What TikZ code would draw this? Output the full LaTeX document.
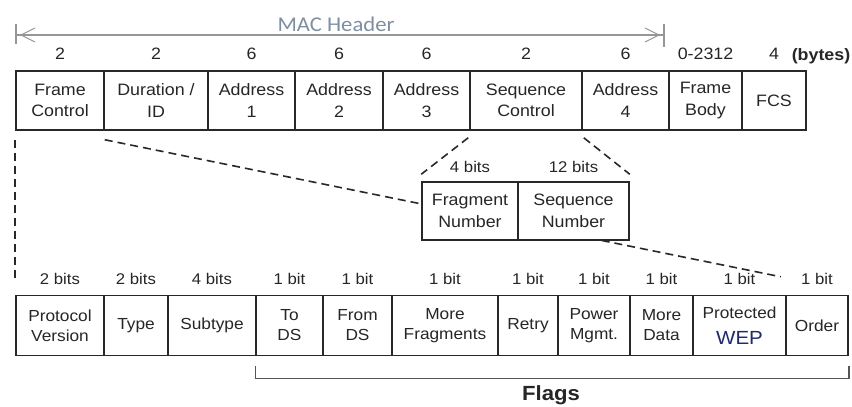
\documentclass[tikz,border=0pt]{standalone}
\usepackage{fontspec}
\setmainfont{Liberation Sans}[FakeStretch=1.08]
\newfontfamily\macfont{Carlito}[FakeStretch=1.08]
\usetikzlibrary{calc}
\definecolor{boxline}{RGB}{40,40,40}
\definecolor{macgray}{RGB}{128,142,162}
\definecolor{macline}{RGB}{150,150,150}
\definecolor{wepblue}{RGB}{30,42,110}
\definecolor{bracketgray}{RGB}{85,85,85}
\begin{document}
\begin{tikzpicture}[x=1pt,y=-1pt,
  cell/.style={draw=boxline,line width=1.5pt,fill=white,inner sep=0pt,align=center,
    font=\fontsize{16.5}{21.5}\selectfont,text=black!85},
  toprow/.style={cell,minimum height=59pt},
  midrow/.style={cell,minimum height=58pt},
  botrow/.style={cell,minimum height=60pt,font=\fontsize{16}{20}\selectfont},
  sizelbl/.style={anchor=base,inner sep=0pt,font=\fontsize{16.5}{18}\selectfont,text=black!85},
  bitlbl/.style={sizelbl,font=\fontsize{15.5}{18}\selectfont},
  dashlink/.style={draw=boxline,line width=1.6pt,dash pattern=on 8pt off 5pt},
  macrule/.style={draw=macline,line width=1.1pt,line join=miter},
  bracketline/.style={draw=bracketgray,line width=1.5pt}]
\useasboundingbox (0,0) rectangle (852,407);

% MAC header span: end bars, rule and open chevron heads
\coordinate (macL) at (16,35);
\coordinate (macR) at (664,35);
\draw[macrule] ($(macL)+(0,-11)$) -- ($(macL)+(0,9)$);
\draw[macrule] ($(macR)+(0,-11)$) -- ($(macR)+(0,12)$);
\draw[macrule] (macL) -- (macR);
\draw[macrule] ($(macL)+(19,-7)$) -- ($(macL)+(5,0)$) -- ($(macL)+(19,7)$);
\draw[macrule] ($(macR)+(-19,-7)$) -- ($(macR)+(-5,0)$) -- ($(macR)+(-19,7)$);
\node[anchor=base,inner sep=0pt,text=macgray,font=\macfont\fontsize{21}{23}\selectfont]
  (machdr) at (336,31) {MAC Header};

% Frame Control expansion (drawn first, the sub-field box covers it)
\node[botrow,minimum width=62pt] (ord) at (817,325.5) {Order};
\node[toprow,minimum width=88pt] (fc) at (60,100.5) {Frame\\Control};
\node[botrow,minimum width=88pt] (pv) at (60,325.5) {Protocol\\Version};
\coordinate (fcEnd) at ($(ord.north east)+(-68,-18)$);
\draw[dashlink] ($(fc.south east)+(0,9)$) -- (fcEnd);
\draw[dashlink] ($(fc.south west)+(0,9)$) -- ($(pv.north west)+(0,-14)$);

% MAC frame fields
\node[toprow,minimum width=104pt] (dur) at (156,100.5) {Duration /\\ID};
\node[toprow,minimum width=87pt] (a1) at (251.5,100.5) {Address\\1};
\node[toprow,minimum width=88pt] (a2) at (339,100.5) {Address\\2};
\node[toprow,minimum width=87pt] (a3) at (426.5,100.5) {Address\\3};
\node[toprow,minimum width=112pt] (sc) at (526,100.5) {Sequence\\Control};
\node[toprow,minimum width=87pt] (a4) at (625.5,100.5) {Address\\4};
\node[toprow,minimum width=73pt] (fb) at (705.5,100.5) {Frame\\Body};
\node[toprow,minimum width=64pt] (fcs) at (774,100.5) {FCS};

\foreach \n/\t in {fc/2,dur/2,a1/6,a2/6,a3/6,sc/2,a4/6,fb/0-2312,fcs/4}
  \node[sizelbl] at ($(\n.north)+(0,-11)$) {\t};
\node[sizelbl,font=\bfseries\fontsize{16.5}{18}\selectfont] (bytes) at (821,60) {(bytes)};

% Sequence Control sub-fields
\node[midrow,minimum width=96pt] (fn) at (470,211) {Fragment\\Number};
\node[midrow,minimum width=111pt] (sn) at (573.5,211) {Sequence\\Number};
\node[bitlbl] at ($(fn.north)+(0,-9)$) {4 bits};
\node[bitlbl] at ($(sn.north)+(0,-9)$) {12 bits};
\draw[dashlink] ($(sc.south west)+(-1,7)$) -- ($(fn.north west)+(0,-7)$);
\draw[dashlink] ($(sc.south east)+(1,7)$) -- ($(sn.north east)+(0,-7)$);

% Frame Control sub-fields
\node[botrow,minimum width=64pt] (ty) at (136,325.5) {Type};
\node[botrow,minimum width=88pt] (st) at (212,325.5) {Subtype};
\node[botrow,minimum width=67pt] (tods) at (289.5,325.5) {To\\DS};
\node[botrow,minimum width=69pt] (fromds) at (357.5,325.5) {From\\DS};
\node[botrow,minimum width=106pt] (mf) at (445,325.5) {More\\Fragments};
\node[botrow,minimum width=60pt] (rt) at (528,325.5) {Retry};
\node[botrow,minimum width=72pt] (pm) at (594,325.5) {Power\\Mgmt.};
\node[botrow,minimum width=63pt] (md) at (661.5,325.5) {More\\Data};
\node[botrow,minimum width=93pt] (pw) at (739.5,325.5)
  {Protected\\[6pt]{\fontsize{19}{20}\selectfont\color{wepblue}WEP}};
\node[botrow,minimum width=62pt] at (ord) {Order};

\foreach \n/\t in {pv/2 bits,ty/2 bits,st/4 bits,tods/1 bit,fromds/1 bit,mf/1 bit,
  rt/1 bit,pm/1 bit,md/1 bit,pw/1 bit,ord/1 bit}
  \node[bitlbl] at ($(\n.north)+(0,-10.5)$) {\t};

% Flags bracket
\draw[bracketline] ($(tods.south west)+(0,10)$) -- ++(0,12) -| ($(ord.south east)+(0,10)$);
\node[anchor=base,inner sep=0pt,font=\bfseries\fontsize{20.5}{23}\selectfont,text=black!85]
  (flags) at (551,400) {Flags};
\end{tikzpicture}
\end{document}
